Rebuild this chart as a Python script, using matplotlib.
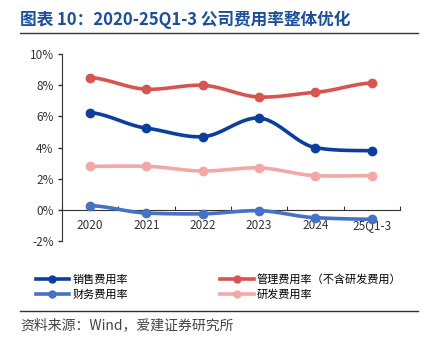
import numpy as np
import matplotlib.pyplot as plt
from matplotlib.lines import Line2D

plt.rcParams['font.family'] = ['Noto Sans CJK SC', 'DejaVu Sans']

periods = ["2020", "2021", "2022", "2023", "2024", "25Q1-3"]
sales_rate = [6.25, 5.25, 4.7, 5.9, 4.0, 3.8]
admin_rate = [8.5, 7.75, 8.0, 7.25, 7.55, 8.15]
finance_rate = [0.28, -0.2, -0.25, -0.05, -0.5, -0.6]
rd_rate = [2.8, 2.8, 2.5, 2.7, 2.2, 2.2]

# order chosen so the 2-column legend reads like the original
series = [
    ("销售费用率", sales_rate, "#0b3f9f"),
    ("财务费用率", finance_rate, "#4472c4"),
    ("管理费用率（不含研发费用）", admin_rate, "#d9534f"),
    ("研发费用率", rd_rate, "#f4a7a7"),
]


def smooth(x, y, n=20):
    # hermite curve through the points, only for drawing
    x = np.asarray(x, float)
    y = np.asarray(y, float)
    xs, ys = [], []
    for i in range(len(x) - 1):
        y0 = y[i - 1] if i > 0 else y[i]
        y3 = y[i + 2] if i + 2 < len(y) else y[i + 1]
        m1 = (y[i + 1] - y0) / 2 * 0.6
        m2 = (y3 - y[i]) / 2 * 0.6
        t = np.linspace(0, 1, n)
        h00 = 2 * t**3 - 3 * t**2 + 1
        h10 = t**3 - 2 * t**2 + t
        h01 = -2 * t**3 + 3 * t**2
        h11 = t**3 - t**2
        xs.append(x[i] + t * (x[i + 1] - x[i]))
        ys.append(h00 * y[i] + h10 * m1 + h01 * y[i + 1] + h11 * m2)
    return np.concatenate(xs), np.concatenate(ys)


fig = plt.figure(figsize=(4.3, 3.54), dpi=100)
ax = fig.add_axes([0.144, 0.319, 0.786, 0.528])

x = np.arange(len(periods))
for name, vals, color in series:
    sx, sy = smooth(x, vals)
    ax.plot(sx, sy, color=color, lw=2.6, solid_capstyle='round', zorder=3)
    ax.plot(x, vals, 'o', color=color, ms=6, zorder=4)

ax.set_xlim(-0.5, len(periods) - 0.5)
ax.set_ylim(-2, 10)
ax.set_yticks(range(-2, 11, 2))
ax.set_yticklabels([f"{v}%" for v in range(-2, 11, 2)], fontsize=8.5, color='#333333')
ax.tick_params(axis='y', length=3, width=1, color='#333333', pad=3)

# x axis sits at 0%
ax.spines['bottom'].set_position(('data', 0))
ax.spines['top'].set_visible(False)
ax.spines['right'].set_visible(False)
ax.spines['left'].set_color('#333333')
ax.spines['bottom'].set_color('#333333')
ax.set_xticks(np.arange(len(periods) + 1) - 0.5)
ax.set_xticklabels([])
ax.tick_params(axis='x', direction='in', length=3, color='#333333')
for i, p in enumerate(periods):
    ax.text(i, -1.0, p, ha='center', va='center', fontsize=8.5, color='#333333')

# title and rules
fig.text(0.047, 0.945, "图表 10：2020-25Q1-3 公司费用率整体优化", fontsize=12,
         fontweight='bold', color='#1a4fa0', va='center')
fig.add_artist(Line2D([0.047, 0.972], [0.907, 0.907], color='#333333', lw=1))
fig.add_artist(Line2D([0.047, 0.972], [0.121, 0.121], color='#333333', lw=1))

handles = [Line2D([], [], color=c, lw=2.6, marker='o', ms=5) for _, _, c in series]
fig.legend(handles, [s[0] for s in series], ncol=2, loc='center left',
           bbox_to_anchor=(0.06, 0.190), frameon=False, fontsize=8,
           handlelength=3, handletextpad=0.3, columnspacing=8.3,
           labelspacing=0.45)

fig.text(0.047, 0.082, "资料来源：Wind，爱建证券研究所", fontsize=10,
         color='#444444', va='center')

fig.savefig("out.png", dpi=100)
